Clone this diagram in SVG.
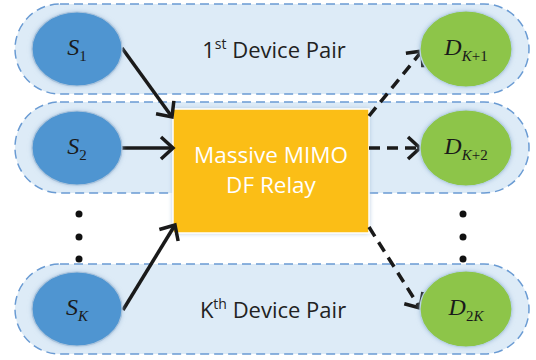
<svg xmlns="http://www.w3.org/2000/svg" width="536" height="360" viewBox="0 0 536 360">
  <defs>
    <style>
      .pair { fill: #DDEBF7; stroke: #6A9BD3; stroke-width: 1.5; stroke-dasharray: 9 5; }
      .src { fill: #4F95D1; stroke: #A9C3DC; stroke-width: 1.2; filter: url(#glow); }
      .dst { fill: #8DC54A; stroke: #B9D3E6; stroke-width: 1.2; filter: url(#glow); }
      .relay { fill: #FBBE16; stroke: #FFFFFF; stroke-width: 1.5; filter: url(#glow); }
      .lbl { font-family: "Liberation Serif", "Times New Roman", serif; fill: #1A1A1A; }
      .it { font-style: italic; }
      .pairtxt { font-family: "Open Sans", "Liberation Sans", sans-serif; font-size: 22px; fill: #222222; text-anchor: middle; }
      .relaytxt { font-family: "Open Sans", "Liberation Sans", sans-serif; font-size: 22.5px; fill: #FFFFFF; text-anchor: middle; }
      .edge { fill: none; stroke: #1A1A1A; stroke-width: 3.5; }
      .dash { stroke-dasharray: 11 7; }
      .dot { fill: #111111; }
    </style>
    <filter id="glow" x="-20%" y="-20%" width="140%" height="140%">
      <feDropShadow dx="0" dy="0" stdDeviation="2" flood-color="#9DB8D6" flood-opacity="0.7"/>
    </filter>
    <marker id="head" markerUnits="userSpaceOnUse" markerWidth="30" markerHeight="30" viewBox="-16 -15 20 30" refX="0" refY="0" orient="auto">
      <path d="M-12,-11 L0,0 L-12,11" fill="none" stroke="#1A1A1A" stroke-width="3.5" stroke-linejoin="miter"/>
    </marker>
  </defs>

  <!-- device pair capsules -->
  <g id="pair1"><rect class="pair" x="15" y="4" width="514" height="90" rx="45" ry="45"/></g>
  <g id="pair2"><rect class="pair" x="15" y="102" width="514" height="91" rx="45" ry="45"/></g>
  <g id="pairK"><rect class="pair" x="15" y="264" width="514" height="90" rx="45" ry="45"/></g>

  <!-- pair labels -->
  <g id="pair1-label">
    <text class="pairtxt" x="274" y="58">1<tspan font-size="14" dy="-9">st</tspan><tspan dy="9"> Device Pair</tspan></text>
  </g>
  <g id="pairK-label">
    <text class="pairtxt" x="273" y="318">K<tspan font-size="14" dy="-9">th</tspan><tspan dy="9"> Device Pair</tspan></text>
  </g>

  <!-- relay -->
  <g id="relay">
    <rect class="relay" x="173" y="109" width="196" height="124"/>
    <text class="relaytxt" x="271" y="163">Massive MIMO</text>
    <text class="relaytxt" x="271" y="193">DF Relay</text>
  </g>

  <!-- connectors -->
  <g id="connectors">
    <line class="edge" x1="122" y1="48" x2="172" y2="117" marker-end="url(#head)"/>
    <line class="edge" x1="122" y1="148" x2="173" y2="148" marker-end="url(#head)"/>
    <line class="edge" x1="123" y1="310" x2="175" y2="225" marker-end="url(#head)"/>
    <line class="edge dash" x1="369" y1="116" x2="422" y2="51" marker-end="url(#head)"/>
    <line class="edge dash" x1="369" y1="148" x2="420" y2="148" marker-end="url(#head)"/>
    <line class="edge dash" x1="369" y1="227" x2="420" y2="308" marker-end="url(#head)"/>
  </g>

  <!-- sources -->
  <g id="S1">
    <ellipse class="src" cx="77" cy="49" rx="45" ry="37"/>
    <text class="lbl" x="77" y="55" text-anchor="middle"><tspan class="it" font-size="24">S</tspan><tspan font-size="15" dy="6">1</tspan></text>
  </g>
  <g id="S2">
    <ellipse class="src" cx="77" cy="148" rx="45" ry="37"/>
    <text class="lbl" x="77" y="154" text-anchor="middle"><tspan class="it" font-size="24">S</tspan><tspan font-size="15" dy="6">2</tspan></text>
  </g>
  <g id="SK">
    <ellipse class="src" cx="77" cy="309" rx="45" ry="37"/>
    <text class="lbl" x="77" y="315" text-anchor="middle"><tspan class="it" font-size="24">S</tspan><tspan class="it" font-size="15" dy="6">K</tspan></text>
  </g>

  <!-- destinations -->
  <g id="DK1">
    <ellipse class="dst" cx="466" cy="49" rx="46" ry="38"/>
    <text class="lbl" x="466" y="55" text-anchor="middle"><tspan class="it" font-size="24">D</tspan><tspan font-size="15" dy="6"><tspan class="it">K</tspan>+1</tspan></text>
  </g>
  <g id="DK2">
    <ellipse class="dst" cx="466" cy="148" rx="46" ry="38"/>
    <text class="lbl" x="466" y="154" text-anchor="middle"><tspan class="it" font-size="24">D</tspan><tspan font-size="15" dy="6"><tspan class="it">K</tspan>+2</tspan></text>
  </g>
  <g id="D2K">
    <ellipse class="dst" cx="466" cy="309" rx="46" ry="38"/>
    <text class="lbl" x="466" y="315" text-anchor="middle"><tspan class="it" font-size="24">D</tspan><tspan font-size="15" dy="6">2<tspan class="it">K</tspan></tspan></text>
  </g>

  <!-- ellipsis dots -->
  <g id="dots">
    <circle class="dot" cx="79" cy="214" r="3.5"/>
    <circle class="dot" cx="79" cy="237" r="3.5"/>
    <circle class="dot" cx="79" cy="259" r="3.5"/>
    <circle class="dot" cx="463" cy="214" r="3.5"/>
    <circle class="dot" cx="463" cy="237" r="3.5"/>
    <circle class="dot" cx="463" cy="259" r="3.5"/>
  </g>
</svg>
